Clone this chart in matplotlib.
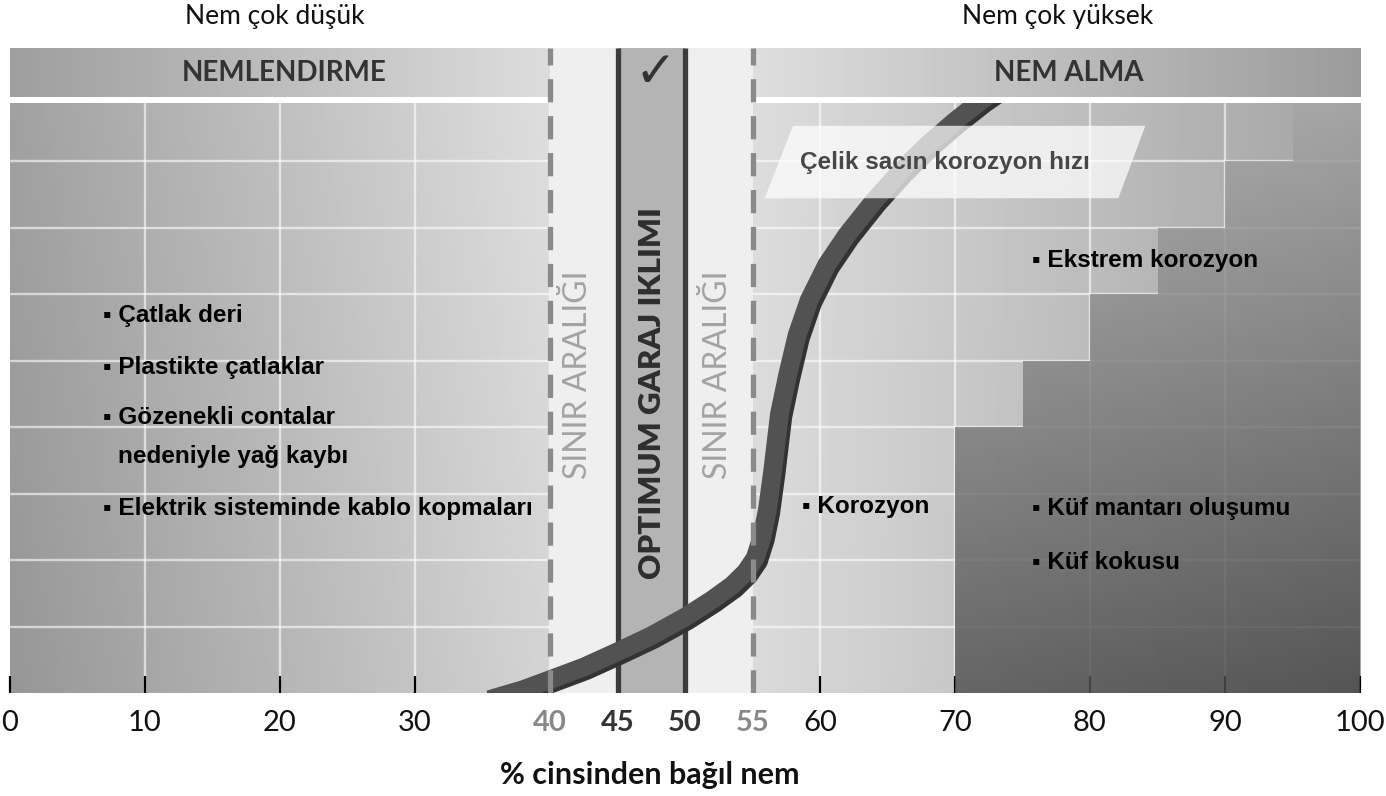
import matplotlib
matplotlib.use('Agg')
import matplotlib.pyplot as plt
from matplotlib.patches import Polygon, Rectangle
import matplotlib.transforms as mtransforms
import numpy as np

# ---- data ----
tick_pos = [0, 10, 20, 30, 40, 45, 50, 55, 60, 70, 80, 90, 100]
zone_limits = [40, 45, 50, 55]          # border / optimum zone limits
step_x = [70, 75, 80, 85, 90, 95]        # staircase (mould / extreme corrosion)
step_top = [4, 5, 6, 7, 8, 8.87]
curve_x = [35.5, 38, 40, 42.5, 45, 47.5, 50, 52, 53.5, 54.5, 55.2, 55.7, 56.1,
           56.5, 57.0, 57.6, 58.3, 59.2, 60.5, 62, 64, 66, 68, 70, 72, 74]
curve_y = [-0.1, 0.05, 0.20, 0.39, 0.62, 0.86, 1.14, 1.40, 1.62, 1.82, 2.03, 2.35, 2.75,
           3.35, 4.2, 4.78, 5.38, 5.91, 6.44, 6.89, 7.40, 7.85, 8.25, 8.60, 8.92, 9.2]
left_items = ['Çatlak deri', 'Plastikte çatlaklar', 'Gözenekli contalar', 'Elektrik sisteminde kablo kopmaları']
left_y = [5.68, 4.90, 4.15, 2.78]
right_items = ['Korozyon', 'Ekstrem korozyon', 'Küf mantarı oluşumu', 'Küf kokusu']
right_x = [58.7, 75.7, 75.7, 75.7]
right_y = [2.80, 6.51, 2.78, 1.97]

TOP = 8.87          # top of plot area
BAND = (8.96, 9.70)  # header band
NARROW = ['Liberation Sans Narrow', 'Liberation Sans', 'DejaVu Sans']
SOFT = ['Lato', 'DejaVu Sans']

fig = plt.figure(figsize=(13.86, 7.96), dpi=100)
ax = fig.add_axes([10 / 1386, 103 / 796, 1350 / 1386, 645 / 796])
ax.set_facecolor('none')


def hgrad(x0, x1, y0, y1, g0, g1, gy=0.0, z=1):
    xs = np.linspace(0, 1, 200)
    ys = np.linspace(0, 1, 50)
    X, Y = np.meshgrid(xs, ys)
    img = g0 + (g1 - g0) * X + gy * Y
    return ax.imshow(img, extent=(x0, x1, y0, y1), origin='lower', cmap='gray',
                     vmin=0, vmax=1, aspect='auto', zorder=z, interpolation='bilinear')


# backgrounds
hgrad(0, 40, 0, TOP, 0.59, 0.83, 0.04)
hgrad(55, 100, 0, TOP, 0.855, 0.63, 0.01)
hgrad(0, 40, BAND[0], BAND[1], 0.62, 0.865)
hgrad(55, 100, BAND[0], BAND[1], 0.87, 0.61)

# grid
for gx in range(10, 100, 10):
    ax.plot([gx, gx], [0, TOP], color='white', alpha=0.6, lw=1.7, zorder=1.5)
for gy in range(1, 9):
    ax.plot([0, 100], [gy, gy], color='white', alpha=0.6, lw=1.7, zorder=1.5)

# dark staircase
verts = [(step_x[0], 0)]
for i, sx in enumerate(step_x):
    if i > 0:
        verts.append((sx, step_top[i - 1]))
    verts.append((sx, step_top[i]))
verts += [(100, step_top[-1]), (100, 0)]
poly = Polygon(verts, closed=True, facecolor='none', edgecolor='none', transform=ax.transData)
ax.add_patch(poly)
xs = np.linspace(70, 100, 200)
ys = np.linspace(0, TOP, 100)
X, Y = np.meshgrid(xs, ys)
dark = 0.33 - 0.0016 * (X - 70) + 0.041 * Y
im = ax.imshow(dark, extent=(70, 100, 0, TOP), origin='lower', cmap='gray', vmin=0, vmax=1,
               aspect='auto', zorder=2, alpha=0.85, interpolation='bilinear')
im.set_clip_path(poly)

# border zone and optimum zone
ax.add_patch(Rectangle((zone_limits[0], 0), zone_limits[3] - zone_limits[0], BAND[1],
                       facecolor='#efefef', edgecolor='none', zorder=2.2))
ax.add_patch(Rectangle((zone_limits[1], 0), zone_limits[2] - zone_limits[1], BAND[1],
                       facecolor='#b4b4b4', edgecolor='none', zorder=2.3))
for zx in zone_limits[1:3]:
    ax.plot([zx, zx], [0, BAND[1]], color='#3c3c3c', lw=3.8, zorder=2.4, solid_capstyle='butt')

# corrosion curve
clip = Rectangle((0, 0), 100, TOP, transform=ax.transData)
shift = mtransforms.ScaledTranslation(0.03, -0.03, fig.dpi_scale_trans)
l1, = ax.plot(curve_x, curve_y, color='#333333', lw=14, zorder=4,
              transform=ax.transData + shift, solid_capstyle='butt')
l2, = ax.plot(curve_x, curve_y, color='#525252', lw=13.5, zorder=4.1, solid_capstyle='butt')
l1.set_clip_path(clip)
l2.set_clip_path(clip)

# dashed borders
for zx in (zone_limits[0], zone_limits[3]):
    ax.plot([zx, zx], [0, BAND[1]], color='#8a8a8a', lw=3.8, dashes=(4.4, 2.6), zorder=5)

# label box for the curve
ax.add_patch(Polygon([(55.9, 7.44), (58.0, 8.53), (84.1, 8.53), (82.1, 7.44)], closed=True,
                     facecolor='white', alpha=0.72, edgecolor='none', zorder=5.5))
ax.text(58.5, 7.98, 'Çelik sacın korozyon hızı', family=NARROW, fontweight='bold',
        fontsize=17.5, color='#474747', ha='left', va='center', zorder=6)

# header band texts
ax.text(20.3, 9.33, 'NEMLENDIRME', family=SOFT, fontweight='bold', fontsize=20,
        color='#333333', ha='center', va='center', zorder=6)
ax.text(78.4, 9.33, 'NEM ALMA', family=SOFT, fontweight='bold', fontsize=20,
        color='#333333', ha='center', va='center', zorder=6)
ax.text(47.8, 9.33, '✓', family=['DejaVu Sans'], fontweight='bold', fontsize=36,
        color='#333333', ha='center', va='center', zorder=6)

# vertical zone labels
ax.text(42.1, 4.78, 'SINIR ARALIĞI', family=SOFT, fontsize=23,
        color='#a3a3a3', rotation=90, ha='center', va='center', zorder=6)
ax.text(52.45, 4.78, 'SINIR ARALIĞI', family=SOFT, fontsize=23,
        color='#a3a3a3', rotation=90, ha='center', va='center', zorder=6)
ax.text(47.55, 4.51, 'OPTIMUM GARAJ IKLIMI', family=SOFT, fontweight='heavy', fontsize=22.5,
        color='#2e2e2e', rotation=90, ha='center', va='center', zorder=6)

# bullet lists
for txt, yy in zip(left_items, left_y):
    ax.text(6.9, yy, '▪ ' + txt, family=NARROW, fontweight='bold', fontsize=17.5,
            color='black', ha='left', va='center', zorder=6)
ax.text(8.0, 3.56, 'nedeniyle yağ kaybı', family=NARROW, fontweight='bold', fontsize=17.5,
        color='black', ha='left', va='center', zorder=6)
for txt, xx, yy in zip(right_items, right_x, right_y):
    ax.text(xx, yy, '▪ ' + txt, family=NARROW, fontweight='bold', fontsize=17.5,
            color='black', ha='left', va='center', zorder=6)

# titles above
ax.text(19.6, 10.18, 'Nem çok düşük', family=SOFT, fontsize=19, color='#111111',
        ha='center', va='center', clip_on=False)
ax.text(77.6, 10.18, 'Nem çok yüksek', family=SOFT, fontsize=19, color='#111111',
        ha='center', va='center', clip_on=False)

# axes
ax.set_xlim(0, 100)
ax.set_ylim(0, BAND[1])
for s in ax.spines.values():
    s.set_visible(False)
ax.set_yticks([])
ax.set_xticks(tick_pos)
ax.set_xticklabels([str(t) for t in tick_pos])
ax.tick_params(axis='x', direction='in', length=12, width=1.6, color='black', pad=12,
               labelsize=21)
for t, lab, tk in zip(tick_pos, ax.get_xticklabels(), ax.xaxis.get_major_ticks()):
    lab.set_family(SOFT)
    if t in (40, 55):
        lab.set_color('#888888'); lab.set_fontweight('bold')
        tk.tick1line.set_visible(False)
    elif t in (45, 50):
        lab.set_color('#333333'); lab.set_fontweight('bold')
        tk.tick1line.set_visible(False)
    else:
        lab.set_color('#111111')
ax.set_xlabel('% cinsinden bağıl nem', family=SOFT, fontweight='bold', fontsize=22,
              color='#111111', labelpad=18)
ax.xaxis.label.set_x(0.474)

fig.savefig('out.png', dpi=100)
